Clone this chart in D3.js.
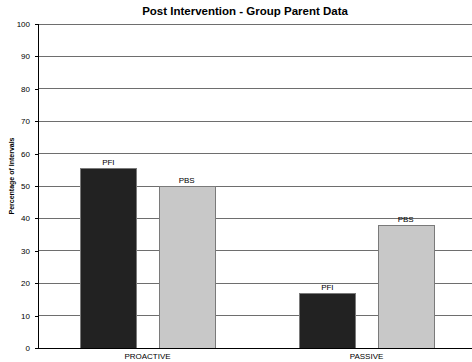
<!DOCTYPE html>
<html>
<head>
<meta charset="utf-8">
<script src="https://cdn.jsdelivr.net/npm/d3@7"></script>
<style>
  html, body { margin: 0; padding: 0; background: #fff; }
  svg { display: block; font-family: "Liberation Sans", Arial, sans-serif; }
</style>
</head>
<body>
<svg id="chart" width="472" height="362"></svg>
<script>
// Post intervention percentages by condition and group
const categories = ["PROACTIVE", "PASSIVE"];
const seriesNames = ["PFI", "PBS"];
const pfiValues = [55.5, 17];
const pbsValues = [50, 38];
const yTicks = [0, 10, 20, 30, 40, 50, 60, 70, 80, 90, 100];
const seriesColors = ["#222222", "#c8c8c8"];

const svg = d3.select("#chart");
const margin = { left: 38, top: 24, bottom: 14 };
const W = 472, H = 362;
const plotRight = 476; // plot area runs slightly past the right edge of the view
const plotBottom = H - margin.bottom;

const x = d3.scaleBand().domain(categories).range([margin.left, plotRight]).paddingInner(0).paddingOuter(0);
const xs = d3.scaleBand().domain(seriesNames).range([0, x.bandwidth()]).paddingInner(0.282).paddingOuter(0.54);
const y = d3.scaleLinear().domain([0, 100]).range([plotBottom, margin.top]);

// Horizontal gridlines
svg.append("g")
  .selectAll("line")
  .data(yTicks.filter(d => d > 0))
  .join("line")
  .attr("x1", margin.left).attr("x2", W)
  .attr("y1", d => y(d)).attr("y2", d => y(d))
  .attr("stroke", "#6e6e6e").attr("stroke-width", 1).attr("shape-rendering", "crispEdges");

// Y axis
const yAxis = d3.axisLeft(y).tickValues(yTicks).tickSize(3).tickPadding(5);
const gy = svg.append("g").attr("transform", `translate(${margin.left},0)`).call(yAxis);
gy.select(".domain").attr("stroke", "#000").attr("shape-rendering", "crispEdges");
gy.selectAll(".tick line").attr("stroke", "#000").attr("shape-rendering", "crispEdges");
gy.selectAll(".tick text").attr("font-size", 8).attr("fill", "#000").attr("font-family", "Liberation Sans, Arial, sans-serif");

// Bars
const rows = categories.map((c, i) => ({ cat: c, values: [pfiValues[i], pbsValues[i]] }));
const groups = svg.append("g").selectAll("g")
  .data(rows).join("g")
  .attr("transform", d => `translate(${x(d.cat)},0)`);

groups.selectAll("rect")
  .data(d => d.values.map((v, j) => ({ name: seriesNames[j], value: v, j })))
  .join("rect")
  .attr("x", d => Math.round(xs(d.name)) + 0.5)
  .attr("y", d => Math.round(y(d.value)) + 0.5)
  .attr("width", Math.round(xs.bandwidth()))
  .attr("height", d => plotBottom - Math.round(y(d.value)))
  .attr("fill", d => seriesColors[d.j])
  .attr("stroke", "#7a7a7a").attr("stroke-width", 1);

groups.selectAll("text")
  .data(d => d.values.map((v, j) => ({ name: seriesNames[j], value: v })))
  .join("text")
  .attr("x", d => xs(d.name) + xs.bandwidth() / 2)
  .attr("y", d => y(d.value) - 3)
  .attr("text-anchor", "middle")
  .attr("font-size", 8)
  .attr("fill", "#000")
  .text(d => d.name);

// X axis baseline
const xAxis = d3.axisBottom(x).tickSize(0).tickPadding(5);
const gx = svg.append("g").attr("transform", `translate(0,${plotBottom})`).call(xAxis);
gx.select(".domain").attr("stroke", "#000").attr("shape-rendering", "crispEdges");
gx.selectAll(".tick text").attr("font-size", 8).attr("fill", "#000").attr("font-family", "Liberation Sans, Arial, sans-serif");

// Title
svg.append("text")
  .attr("x", 245).attr("y", 15)
  .attr("text-anchor", "middle")
  .attr("font-size", 11.5).attr("font-weight", "bold")
  .text("Post Intervention - Group Parent Data");

// Y axis title
svg.append("text")
  .attr("transform", "translate(14,176) rotate(-90)")
  .attr("text-anchor", "middle")
  .attr("font-size", 7).attr("font-weight", "bold")
  .text("Percentage of Intervals");
</script>
</body>
</html>
